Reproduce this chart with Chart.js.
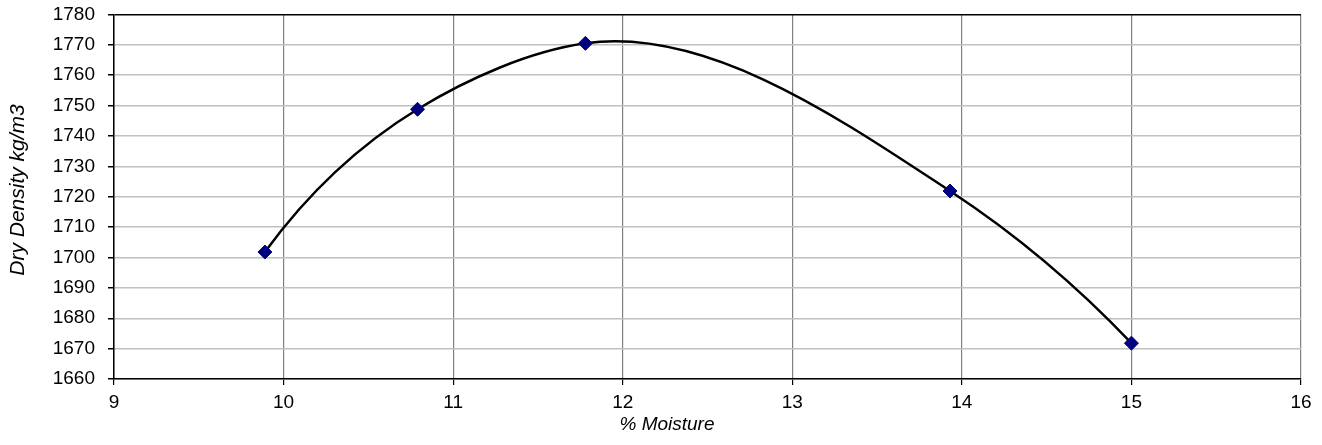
<!DOCTYPE html>
<html>
<head>
<meta charset="utf-8">
<script src="https://cdn.jsdelivr.net/npm/chart.js@4.4.1/dist/chart.umd.min.js"></script>
<style>
  html, body { margin: 0; padding: 0; background: #ffffff; }
  #wrap { width: 1322px; height: 445px; position: relative; }
</style>
</head>
<body>
<div id="wrap"><canvas id="c" width="1322" height="445"></canvas></div>
<script>
const moisture = [9.89, 10.79, 11.78, 13.93, 15.0];
const dryDensity = [1701.8, 1748.8, 1770.5, 1721.9, 1671.8];
const xTicks = [9, 10, 11, 12, 13, 14, 15, 16];
const yTicks = [1660, 1670, 1680, 1690, 1700, 1710, 1720, 1730, 1740, 1750, 1760, 1770, 1780];
const xTitle = '% Moisture';
const yTitle = 'Dry Density kg/m3';

const FONT = "'Liberation Sans', Arial, sans-serif";
const points = moisture.map((m, i) => ({ x: m, y: dryDensity[i] }));

// Smooth curve control points in the style of a spreadsheet "smoothed line"
// (Bessel tangents on chord-length parameterisation), applied to the library's own point elements.
const smoothPlugin = {
  id: 'smoothCurve',
  beforeDatasetDraw(chart, args) {
    const meta = chart.getDatasetMeta(args.index);
    const line = meta.dataset;
    line.updateControlPoints(chart.chartArea, 'x');
    const pts = meta.data;
    const n = pts.length;
    if (n < 2) return;
    const h = [];
    for (let i = 0; i < n - 1; i++) {
      h.push(Math.hypot(pts[i + 1].x - pts[i].x, pts[i + 1].y - pts[i].y));
    }
    const m = [];
    for (let i = 1; i < n - 1; i++) {
      const a = h[i - 1], b = h[i];
      const d0x = (pts[i].x - pts[i - 1].x) / a, d0y = (pts[i].y - pts[i - 1].y) / a;
      const d1x = (pts[i + 1].x - pts[i].x) / b, d1y = (pts[i + 1].y - pts[i].y) / b;
      m[i] = { x: (b * d0x + a * d1x) / (a + b), y: (b * d0y + a * d1y) / (a + b) };
    }
    const s0x = (pts[1].x - pts[0].x) / h[0], s0y = (pts[1].y - pts[0].y) / h[0];
    m[0] = n > 2 ? { x: 2 * s0x - m[1].x, y: 2 * s0y - m[1].y } : { x: s0x, y: s0y };
    const sLx = (pts[n - 1].x - pts[n - 2].x) / h[n - 2], sLy = (pts[n - 1].y - pts[n - 2].y) / h[n - 2];
    m[n - 1] = n > 2 ? { x: 2 * sLx - m[n - 2].x, y: 2 * sLy - m[n - 2].y } : { x: sLx, y: sLy };
    for (let i = 0; i < n; i++) {
      const p = pts[i];
      const hp = i > 0 ? h[i - 1] : 0;
      const hn = i < n - 1 ? h[i] : 0;
      p.cp1x = p.x - m[i].x * hp / 3;
      p.cp1y = p.y - m[i].y * hp / 3;
      p.cp2x = p.x + m[i].x * hn / 3;
      p.cp2y = p.y + m[i].y * hn / 3;
    }
  }
};

const titlePlugin = {
  id: 'axisTitles',
  afterDraw(chart) {
    const ctx = chart.ctx;
    ctx.save();
    ctx.fillStyle = '#000000';
    ctx.textAlign = 'center';
    ctx.textBaseline = 'middle';
    ctx.font = "italic 19px " + FONT;
    ctx.fillText(xTitle, 667, 425);
    ctx.translate(18, 190);
    ctx.rotate(-Math.PI / 2);
    ctx.font = "italic 21px " + FONT;
    ctx.fillText(yTitle, 0, 0);
    ctx.restore();
  }
};

new Chart(document.getElementById('c'), {
  type: 'line',
  data: {
    datasets: [{
      data: points,
      borderColor: '#000000',
      borderWidth: 2.5,
      tension: 0.4,
      fill: false,
      pointStyle: 'rectRot',
      pointRadius: 7,
      pointBackgroundColor: '#000080',
      pointBorderColor: '#000080',
      pointBorderWidth: 1
    }]
  },
  plugins: [smoothPlugin, titlePlugin],
  options: {
    responsive: false,
    animation: false,
    devicePixelRatio: 1,
    layout: { padding: { top: 14.5, right: 21, left: 0, bottom: 0 } },
    plugins: { legend: { display: false }, tooltip: { enabled: false } },
    scales: {
      x: {
        type: 'linear',
        min: 9, max: 16,
        afterBuildTicks: s => { s.ticks = xTicks.map(v => ({ value: v })); },
        afterFit: s => { s.height = 66; s.paddingLeft = 0; s.paddingRight = 0; },
        grid: { color: '#808080', lineWidth: 1.2, tickLength: 6, tickColor: '#000000' },
        border: { color: '#000000', width: 1.5 },
        ticks: { color: '#000000', font: { family: FONT, size: 19 }, padding: 6, maxRotation: 0,
                 callback: v => String(v) }
      },
      y: {
        type: 'linear',
        min: 1660, max: 1780,
        afterBuildTicks: s => { s.ticks = yTicks.map(v => ({ value: v })); },
        afterFit: s => { s.width = 114; s.paddingTop = 0; s.paddingBottom = 0; },
        grid: {
          color: ctx => (ctx.tick && ctx.tick.value === 1780) ? '#000000' : '#c0c0c0',
          lineWidth: 1.5,
          tickLength: 6, tickColor: '#000000'
        },
        border: { color: '#000000', width: 1.5 },
        ticks: { color: '#000000', font: { family: FONT, size: 19 }, padding: 13,
                 callback: v => String(v) }
      }
    }
  }
});
</script>
</body>
</html>
